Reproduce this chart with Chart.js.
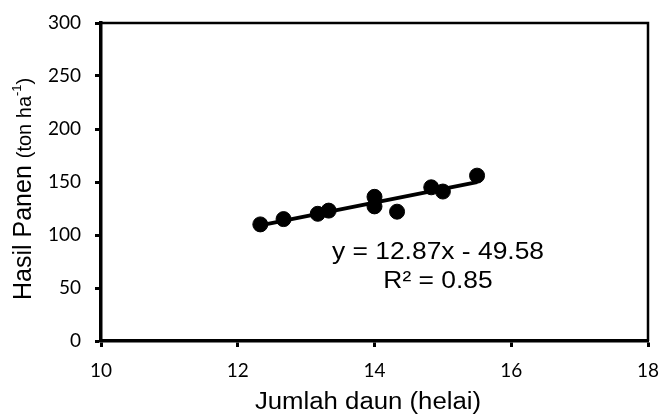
<!DOCTYPE html>
<html>
<head>
<meta charset="utf-8">
<script src="https://cdn.jsdelivr.net/npm/chart.js@4.4.1/dist/chart.umd.min.js"></script>
<style>
  html, body { margin: 0; padding: 0; background: #fff; }
</style>
</head>
<body>
<canvas id="myChart" width="662" height="416"></canvas>
<script>
///////////// DATA /////////////

const leafCount = [12.33, 12.67, 13.17, 13.33, 14.0, 14.0, 14.33, 14.83, 15.0, 15.5];  // Jumlah daun (helai)
const yieldTon = [110, 115, 120, 123, 136, 127, 122, 145, 141, 156];                   // Hasil panen (ton/ha)
const trendX = [12.33, 15.5];   // trendline ends at the data range
const trendY = [109.1, 149.9];  // from y = 12.87x - 49.58
const xTicks = [10, 12, 14, 16, 18];
const yTicks = [0, 50, 100, 150, 200, 250, 300];
const eqLines = ['y = 12.87x - 49.58', 'R\u00B2 = 0.85'];

const points = leafCount.map((x, i) => ({ x, y: yieldTon[i] }));
const trend = trendX.map((x, i) => ({ x, y: trendY[i] }));

const FONT = '"Liberation Sans", Arial, sans-serif';

// text drawn a little wider than normal, like the original picture
function wideText(ctx, txt, x, y, sx) {
  ctx.save();
  ctx.translate(x, y);
  ctx.scale(sx, 1);
  ctx.fillText(txt, 0, 0);
  ctx.restore();
}

///////////// EXTRA DRAWING (frame, titles, equation) /////////////

const extras = {
  id: 'extras',
  afterDraw(chart) {
    const { ctx, chartArea: a } = chart;
    ctx.save();
    // box round the plot
    ctx.strokeStyle = '#000';
    ctx.lineWidth = 2.5;
    ctx.beginPath();
    ctx.moveTo(a.left, a.top);
    ctx.lineTo(a.right, a.top);
    ctx.lineTo(a.right, a.bottom);
    ctx.stroke();

    ctx.fillStyle = '#000';
    ctx.textBaseline = 'middle';
    ctx.textAlign = 'center';

    // x title
    ctx.font = '23px ' + FONT;
    wideText(ctx, 'Jumlah daun (helai)', 368, 403, 1.12);

    // regression text
    ctx.font = '24px ' + FONT;
    wideText(ctx, eqLines[0], 438, 252, 1.1);
    wideText(ctx, eqLines[1], 438, 281, 1.1);

    // y title with superscript, rotated
    ctx.translate(24, 300);
    ctx.rotate(-Math.PI / 2);
    ctx.textAlign = 'left';
    const parts = [
      ['Hasil Panen ', 25, 0],
      ['(ton ha', 20, 1],
      ['-1', 13, -7],
      [')', 20, 1]
    ];
    let cx = 0;
    parts.forEach(p => {
      ctx.font = p[1] + 'px ' + FONT;
      ctx.fillText(p[0], cx, p[2]);
      cx += ctx.measureText(p[0]).width;
    });
    ctx.restore();
  }
};

///////////// CHART /////////////

const ctx = document.getElementById('myChart').getContext('2d');
new Chart(ctx, {
  type: 'scatter',
  data: {
    datasets: [
      {
        label: 'Trend',
        data: trend,
        showLine: true,
        borderColor: '#000',
        borderWidth: 4,
        pointRadius: 0,
        order: 2
      },
      {
        label: 'Data',
        data: points,
        backgroundColor: '#000',
        borderColor: '#000',
        pointRadius: 7.5,
        pointHoverRadius: 7.5,
        order: 1
      }
    ]
  },
  options: {
    responsive: false,
    animation: false,
    layout: { padding: { top: 23, right: 14, left: 0, bottom: 0 } },
    plugins: { legend: { display: false }, tooltip: { enabled: false } },
    scales: {
      x: {
        type: 'linear',
        min: 10, max: 18,
        afterBuildTicks: s => { s.ticks = xTicks.map(v => ({ value: v })); },
        afterFit: s => { s.height = 75; s.paddingLeft = 0; s.paddingRight = 0; },
        grid: { display: true, drawOnChartArea: false, color: '#000', tickLength: 6, tickWidth: 3 },
        border: { display: true, color: '#000', width: 3.5 },
        ticks: { color: '#000', padding: 12, font: { family: 'Lato', size: 19 } }
      },
      y: {
        type: 'linear',
        min: 0, max: 300,
        afterBuildTicks: s => { s.ticks = yTicks.map(v => ({ value: v })); },
        afterFit: s => { s.width = 101; s.paddingTop = 0; s.paddingBottom = 0; },
        grid: { display: true, drawOnChartArea: false, color: '#000', tickLength: 6, tickWidth: 3 },
        border: { display: true, color: '#000', width: 3.5 },
        ticks: { color: '#000', padding: 14, font: { family: 'Lato', size: 19 } }
      }
    }
  },
  plugins: [extras]
});
</script>
</body>
</html>
